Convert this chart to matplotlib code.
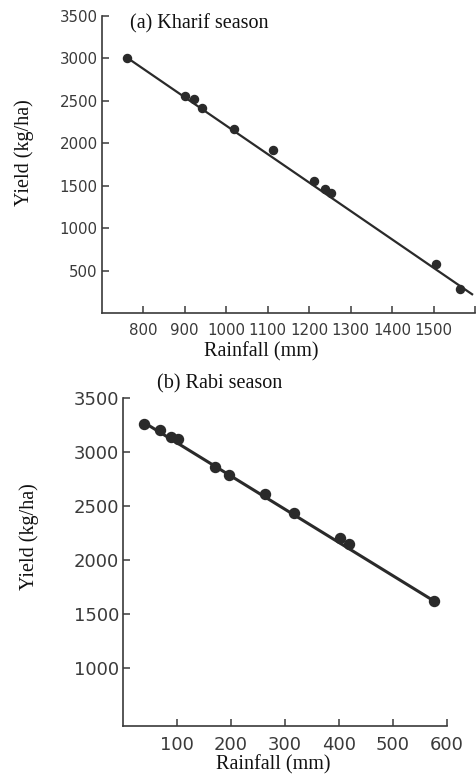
import matplotlib
matplotlib.use("Agg")
import matplotlib.pyplot as plt

# ---- Data: (a) Kharif season ----
kharif_rain = [760, 900, 922, 943, 1018, 1112, 1211, 1238, 1253, 1507, 1565]
kharif_yield = [3000, 2554, 2524, 2418, 2162, 1926, 1552, 1466, 1415, 578, 283]
kharif_line_x = [760, 1593]
kharif_line_y = [3010, 224]
kharif_xticks = [800, 900, 1000, 1100, 1200, 1300, 1400, 1500, 1600]
kharif_xticklabels = ["800", "900", "1000", "1100", "1200", "1300", "1400", "1500", ""]
kharif_yticks = [500, 1000, 1500, 2000, 2500, 3000, 3500]

# ---- Data: (b) Rabi season ----
rabi_rain = [38, 68, 88, 102, 171, 197, 263, 317, 402, 419, 576]
rabi_yield = [3261, 3200, 3141, 3117, 2864, 2787, 2609, 2439, 2202, 2153, 1623]
rabi_line_x = [38, 576]
rabi_line_y = [3272, 1623]
rabi_xticks = [100, 200, 300, 400, 500, 600]
rabi_yticks = [1000, 1500, 2000, 2500, 3000, 3500]

W, H = 477, 775
fig = plt.figure(figsize=(W / 100, H / 100), dpi=100)
fig.patch.set_facecolor("white")

serif = ["Liberation Serif", "DejaVu Serif"]
ink = "#2a2a2a"
tick_col = "#3a3a3a"


def px_axes(left, top, right, bottom):
    return fig.add_axes([left / W, 1 - bottom / H, (right - left) / W, (bottom - top) / H])


def style(ax, lab_size):
    for s in ["top", "right"]:
        ax.spines[s].set_visible(False)
    for s in ["left", "bottom"]:
        ax.spines[s].set_color(tick_col)
        ax.spines[s].set_linewidth(1.2)
    ax.tick_params(direction="in", length=5, width=1.1, color=tick_col,
                   labelcolor=tick_col, labelsize=lab_size)
    ax.tick_params(axis="y", pad=3)
    ax.tick_params(axis="x", pad=7)
    ax.set_facecolor("none")


# ---- Panel (a) ----
ax1 = px_axes(101.7, 15.7, 475, 313.3)
ax1.plot(kharif_line_x, kharif_line_y, color=ink, lw=1.6, zorder=2)
ax1.plot(kharif_rain, kharif_yield, "o", color=ink, ms=5.8, zorder=3)
ax1.set_xlim(700, 1600)
ax1.set_ylim(0, 3500)
ax1.set_xticks(kharif_xticks)
ax1.set_xticklabels(kharif_xticklabels)
ax1.set_yticks(kharif_yticks)
style(ax1, 10.8)

fig.text(130 / W, 1 - 23.5 / H, "(a) Kharif season", family=serif, fontsize=14.5,
         ha="left", va="center", color="#111111")
fig.text(24 / W, 1 - 153 / H, "Yield (kg/ha)", family=serif, fontsize=14.5,
         rotation=90, ha="center", va="center", color="#111111")
fig.text(261 / W, 1 - 352 / H, "Rainfall (mm)", family=serif, fontsize=14.5,
         ha="center", va="center", color="#111111")

# ---- Panel (b) ----
ax2 = px_axes(123.3, 397.7, 446.7, 726)
ax2.plot(rabi_line_x, rabi_line_y, color=ink, lw=2.2, zorder=2)
ax2.plot(rabi_rain, rabi_yield, "o", color=ink, ms=7.2, zorder=3)
ax2.set_xlim(0, 600)
ax2.set_ylim(467, 3500)
ax2.set_xticks(rabi_xticks)
ax2.set_yticks(rabi_yticks)
style(ax2, 13)

fig.text(220 / W, 1 - 383.5 / H, "(b) Rabi season", family=serif, fontsize=14.5,
         ha="center", va="center", color="#111111")
fig.text(29 / W, 1 - 537 / H, "Yield (kg/ha)", family=serif, fontsize=14.5,
         rotation=90, ha="center", va="center", color="#111111")
fig.text(273 / W, 1 - 765 / H, "Rainfall (mm)", family=serif, fontsize=14.5,
         ha="center", va="center", color="#111111")

fig.savefig("out.png", dpi=100, facecolor="white")
